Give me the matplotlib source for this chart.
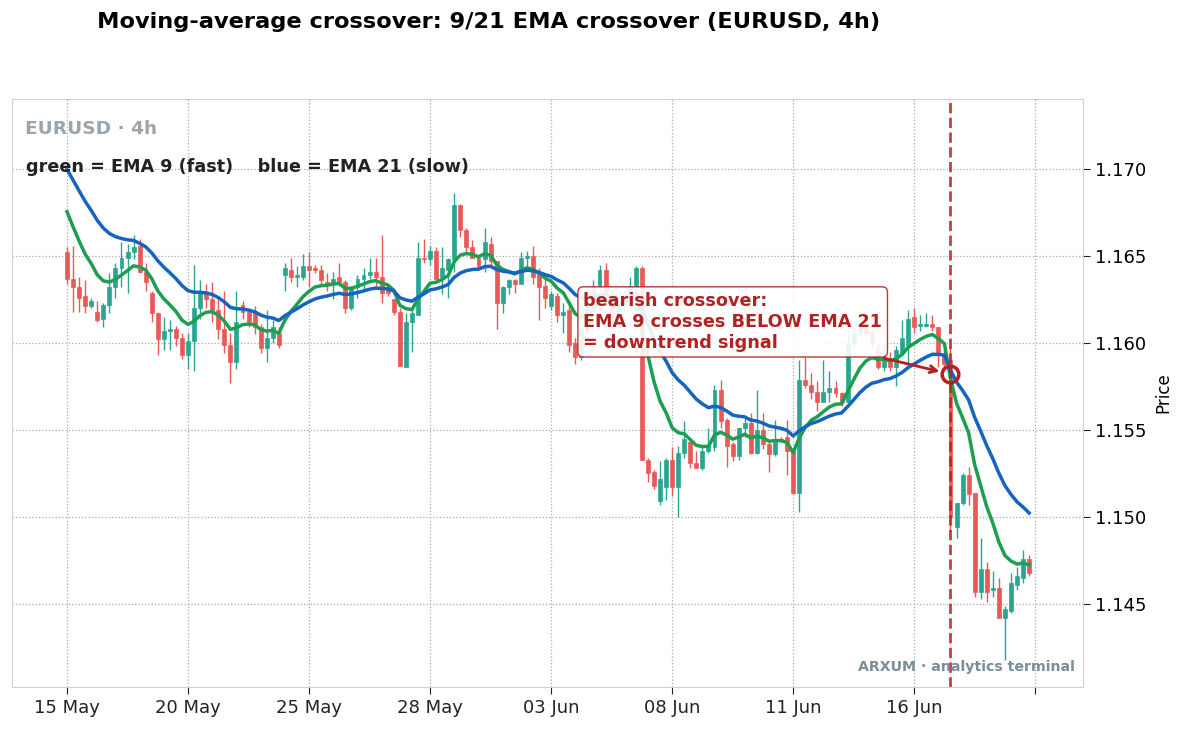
import numpy as np
import pandas as pd
import matplotlib
matplotlib.use("Agg")
import matplotlib.pyplot as plt

# EURUSD 4h candles
opens = [1.1652, 1.1637, 1.1632, 1.1627, 1.1621, 1.1618, 1.1614, 1.1622, 1.1632, 1.1643,
         1.1649, 1.1652, 1.1656, 1.1641, 1.1629, 1.1617, 1.1602, 1.1607, 1.1608, 1.1603,
         1.1593, 1.1601, 1.1620, 1.1629, 1.1625, 1.1619, 1.1608, 1.1599, 1.1589, 1.1622,
         1.1618, 1.1617, 1.1609, 1.1597, 1.1603, 1.1606, 1.1639, 1.1642, 1.1638, 1.1638,
         1.1644, 1.1643, 1.1642, 1.1635, 1.1634, 1.1638, 1.1635, 1.1620, 1.1632, 1.1637,
         1.1639, 1.1641, 1.1638, 1.1632, 1.1625, 1.1618, 1.1586, 1.1612, 1.1616, 1.1649,
         1.1648, 1.1653, 1.1638, 1.1642, 1.1648, 1.1679, 1.1665, 1.1655, 1.1649, 1.1648,
         1.1657, 1.1647, 1.1623, 1.1632, 1.1636, 1.1634, 1.1649, 1.1650, 1.1641, 1.1633,
         1.1621, 1.1627, 1.1616, 1.1619, 1.1600, 1.1592, 1.1608, 1.1622, 1.1633, 1.1642,
         1.1628, 1.1615, 1.1622, 1.1626, 1.1632, 1.1643, 1.1533, 1.1526, 1.1509, 1.1517,
         1.1533, 1.1517, 1.1537, 1.1543, 1.1531, 1.1528, 1.1538, 1.1540, 1.1573, 1.1556,
         1.1542, 1.1535, 1.1551, 1.1554, 1.1537, 1.1550, 1.1542, 1.1536, 1.1545, 1.1546,
         1.1538, 1.1514, 1.1579, 1.1576, 1.1572, 1.1566, 1.1572, 1.1574, 1.1571, 1.1566,
         1.1600, 1.1606, 1.1612, 1.1606, 1.1597, 1.1586, 1.1591, 1.1586, 1.1594, 1.1599,
         1.1615, 1.1610, 1.1610, 1.1611, 1.1609, 1.1593, 1.1590, 1.1494, 1.1508, 1.1524,
         1.1514, 1.1457, 1.1470, 1.1458, 1.1459, 1.1442, 1.1446, 1.1461, 1.1465, 1.1476]
highs = [1.1655, 1.1656, 1.1638, 1.1636, 1.1626, 1.1624, 1.1623, 1.1640, 1.1646, 1.1658,
         1.1657, 1.1662, 1.1660, 1.1646, 1.1630, 1.1618, 1.1615, 1.1613, 1.1610, 1.1606,
         1.1606, 1.1645, 1.1636, 1.1634, 1.1635, 1.1625, 1.1630, 1.1606, 1.1630, 1.1624,
         1.1620, 1.1621, 1.1611, 1.1619, 1.1613, 1.1609, 1.1646, 1.1649, 1.1644, 1.1651,
         1.1652, 1.1645, 1.1645, 1.1640, 1.1641, 1.1646, 1.1636, 1.1633, 1.1639, 1.1643,
         1.1649, 1.1649, 1.1662, 1.1633, 1.1625, 1.1620, 1.1617, 1.1619, 1.1658, 1.1660,
         1.1656, 1.1655, 1.1655, 1.1649, 1.1686, 1.1680, 1.1666, 1.1659, 1.1650, 1.1666,
         1.1661, 1.1647, 1.1633, 1.1637, 1.1637, 1.1652, 1.1653, 1.1656, 1.1643, 1.1637,
         1.1630, 1.1629, 1.1623, 1.1624, 1.1603, 1.1610, 1.1624, 1.1636, 1.1645, 1.1646,
         1.1631, 1.1625, 1.1630, 1.1638, 1.1644, 1.1644, 1.1534, 1.1527, 1.1532, 1.1534,
         1.1540, 1.1541, 1.1555, 1.1544, 1.1538, 1.1541, 1.1551, 1.1576, 1.1579, 1.1557,
         1.1543, 1.1551, 1.1557, 1.1560, 1.1573, 1.1560, 1.1544, 1.1556, 1.1546, 1.1556,
         1.1539, 1.1590, 1.1592, 1.1583, 1.1578, 1.1590, 1.1584, 1.1578, 1.1572, 1.1606,
         1.1609, 1.1616, 1.1615, 1.1612, 1.1600, 1.1600, 1.1595, 1.1598, 1.1613, 1.1619,
         1.1620, 1.1616, 1.1617, 1.1616, 1.1609, 1.1596, 1.1598, 1.1508, 1.1525, 1.1529,
         1.1514, 1.1488, 1.1474, 1.1469, 1.1465, 1.1449, 1.1468, 1.1471, 1.1481, 1.1478]
lows = [1.1634, 1.1618, 1.1618, 1.1617, 1.1620, 1.1612, 1.1609, 1.1617, 1.1626, 1.1632,
        1.1629, 1.1648, 1.1640, 1.1630, 1.1612, 1.1593, 1.1596, 1.1596, 1.1598, 1.1591,
        1.1585, 1.1584, 1.1614, 1.1620, 1.1612, 1.1602, 1.1594, 1.1577, 1.1585, 1.1614,
        1.1609, 1.1605, 1.1594, 1.1589, 1.1600, 1.1597, 1.1630, 1.1635, 1.1632, 1.1636,
        1.1632, 1.1640, 1.1634, 1.1630, 1.1625, 1.1633, 1.1617, 1.1619, 1.1626, 1.1630,
        1.1637, 1.1633, 1.1623, 1.1627, 1.1616, 1.1587, 1.1586, 1.1595, 1.1616, 1.1646,
        1.1645, 1.1636, 1.1628, 1.1626, 1.1641, 1.1661, 1.1652, 1.1649, 1.1642, 1.1641,
        1.1645, 1.1608, 1.1617, 1.1628, 1.1629, 1.1634, 1.1643, 1.1634, 1.1613, 1.1620,
        1.1619, 1.1612, 1.1606, 1.1595, 1.1588, 1.1590, 1.1605, 1.1618, 1.1630, 1.1624,
        1.1610, 1.1612, 1.1618, 1.1622, 1.1630, 1.1533, 1.1520, 1.1516, 1.1507, 1.1510,
        1.1512, 1.1500, 1.1534, 1.1528, 1.1528, 1.1527, 1.1537, 1.1538, 1.1551, 1.1529,
        1.1532, 1.1533, 1.1546, 1.1536, 1.1536, 1.1539, 1.1526, 1.1535, 1.1543, 1.1524,
        1.1513, 1.1503, 1.1574, 1.1568, 1.1561, 1.1566, 1.1566, 1.1569, 1.1564, 1.1566,
        1.1598, 1.1604, 1.1603, 1.1598, 1.1585, 1.1584, 1.1584, 1.1575, 1.1593, 1.1588,
        1.1606, 1.1607, 1.1609, 1.1607, 1.1586, 1.1584, 1.1492, 1.1488, 1.1507, 1.1507,
        1.1454, 1.1453, 1.1451, 1.1454, 1.1442, 1.1418, 1.1445, 1.1458, 1.1462, 1.1466]
closes = [1.1637, 1.1632, 1.1626, 1.1621, 1.1624, 1.1613, 1.1622, 1.1632, 1.1643, 1.1649,
          1.1652, 1.1655, 1.1641, 1.1635, 1.1617, 1.1602, 1.1607, 1.1608, 1.1603, 1.1593,
          1.1601, 1.1620, 1.1629, 1.1625, 1.1619, 1.1608, 1.1599, 1.1589, 1.1612, 1.1618,
          1.1612, 1.1609, 1.1597, 1.1603, 1.1609, 1.1599, 1.1643, 1.1638, 1.1639, 1.1644,
          1.1642, 1.1642, 1.1636, 1.1634, 1.1637, 1.1635, 1.1620, 1.1632, 1.1637, 1.1639,
          1.1641, 1.1638, 1.1629, 1.1629, 1.1618, 1.1587, 1.1612, 1.1617, 1.1649, 1.1648,
          1.1653, 1.1637, 1.1643, 1.1648, 1.1679, 1.1665, 1.1655, 1.1649, 1.1644, 1.1658,
          1.1647, 1.1623, 1.1632, 1.1636, 1.1634, 1.1649, 1.1650, 1.1638, 1.1632, 1.1626,
          1.1628, 1.1616, 1.1618, 1.1599, 1.1592, 1.1608, 1.1622, 1.1633, 1.1642, 1.1628,
          1.1615, 1.1622, 1.1626, 1.1633, 1.1643, 1.1533, 1.1525, 1.1518, 1.1522, 1.1533,
          1.1517, 1.1537, 1.1545, 1.1531, 1.1528, 1.1538, 1.1541, 1.1573, 1.1555, 1.1541,
          1.1535, 1.1551, 1.1554, 1.1537, 1.1550, 1.1542, 1.1536, 1.1545, 1.1544, 1.1538,
          1.1514, 1.1579, 1.1576, 1.1572, 1.1566, 1.1572, 1.1574, 1.1571, 1.1566, 1.1600,
          1.1606, 1.1612, 1.1606, 1.1600, 1.1586, 1.1591, 1.1586, 1.1596, 1.1603, 1.1614,
          1.1609, 1.1611, 1.1611, 1.1609, 1.1593, 1.1588, 1.1500, 1.1508, 1.1524, 1.1513,
          1.1457, 1.1470, 1.1457, 1.1459, 1.1442, 1.1447, 1.1462, 1.1466, 1.1476, 1.1468]

# EMA values just before the first visible bar (warm-up history)
ema_fast_prev = 1.1685
ema_slow_prev = 1.1706

tick_pos = [0, 20, 40, 60, 80, 100, 120, 140, 160]
tick_labels = ["15 May", "20 May", "25 May", "28 May", "03 Jun", "08 Jun", "11 Jun", "16 Jun", ""]
signal_idx = 146


def ema(values, span, prev):
    s = pd.Series([prev] + list(values))
    return s.ewm(span=span, adjust=False).mean().to_numpy()[1:]


o = np.array(opens)
h = np.array(highs)
l = np.array(lows)
c = np.array(closes)
x = np.arange(len(c))
ema9 = ema(closes, 9, ema_fast_prev)
ema21 = ema(closes, 21, ema_slow_prev)
cross_y = (ema9[signal_idx] + ema21[signal_idx]) / 2

UP = "#2aa592"
DOWN = "#e95a56"
RED = "#b22222"

fig = plt.figure(figsize=(11.84, 7.29), dpi=100)
ax = fig.add_axes([0.0101, 0.0576, 0.9046, 0.8066])

colors = np.where(c >= o, UP, DOWN)
ax.vlines(x, l, h, colors=colors, linewidth=1, zorder=2)
ax.bar(x, np.maximum(np.abs(c - o), 0.00004), bottom=np.minimum(o, c),
       width=0.65, color=colors, edgecolor=colors, linewidth=0.5, zorder=3)

ax.plot(x, ema9, color="#1e9e50", lw=2.5, zorder=4)
ax.plot(x, ema21, color="#1565c0", lw=2.5, zorder=4)

ax.axvline(signal_idx, color=RED, ls="--", lw=2, alpha=0.85, zorder=5)
ax.plot(signal_idx, cross_y, "o", mfc="none", mec=RED, ms=12, mew=2.5, zorder=6)
ax.annotate("bearish crossover:\nEMA 9 crosses BELOW EMA 21\n= downtrend signal",
            xy=(signal_idx, cross_y), xytext=(85.3, 1.16121),
            ha="left", va="center", fontsize=12.7, fontweight="bold", color=RED,
            bbox=dict(boxstyle="round,pad=0.3", fc="white", ec=RED, alpha=0.9),
            arrowprops=dict(arrowstyle="->", color=RED, lw=2, shrinkB=8), zorder=7)

ax.set_xlim(-9.1, 167.9)
ax.set_ylim(1.14023, 1.17402)
ax.set_xticks(tick_pos)
ax.set_xticklabels(tick_labels)
ax.set_yticks([1.145, 1.150, 1.155, 1.160, 1.165, 1.170])
ax.yaxis.set_major_formatter(matplotlib.ticker.FormatStrFormatter("%.3f"))
ax.yaxis.tick_right()
ax.yaxis.set_label_position("right")
ax.set_ylabel("Price", fontsize=12, labelpad=6)
ax.tick_params(labelsize=13, colors="#222222", length=5)
ax.tick_params(axis="y", labelcolor="black")
ax.grid(True, ls=":", color="#aaaaaa", lw=0.9)
for sp in ax.spines.values():
    sp.set_color("#d0d0d0")

ax.text(0.012, 0.949, "EURUSD · 4h", transform=ax.transAxes, fontsize=13.3,
        fontweight="bold", color="#9aa5ae", va="center", zorder=8)
ax.text(0.013, 0.884, "green = EMA 9 (fast)    blue = EMA 21 (slow)", transform=ax.transAxes,
        fontsize=12.7, fontweight="bold", color="#222222", va="center", zorder=8)
ax.text(0.9925, 0.034, "ARXUM · analytics terminal", transform=ax.transAxes, fontsize=10.2,
        fontweight="bold", color="#7b8d99", ha="right", va="center", zorder=8)

fig.text(0.4125, 0.970, "Moving-average crossover: 9/21 EMA crossover (EURUSD, 4h)",
         ha="center", va="center", fontsize=16.2, fontweight="bold")

fig.savefig("out.png", dpi=100)
